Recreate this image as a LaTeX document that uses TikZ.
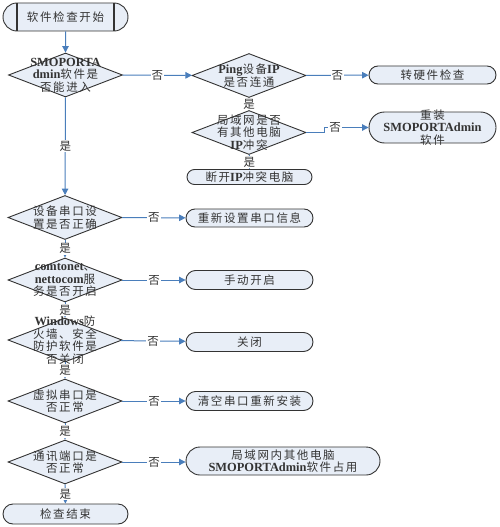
\documentclass[tikz,border=0pt]{standalone}
\usepackage{fontspec}
\setmainfont{Noto Sans CJK SC}[LetterSpace=14]
\newfontfamily\enfont{Liberation Serif}[Scale=1.08]
\newcommand{\en}[1]{{\enfont\bfseries #1}}
\usetikzlibrary{shapes.geometric,shapes.misc,arrows.meta}
\definecolor{myfill}{HTML}{E8EEF7}
\definecolor{myline}{HTML}{4A7EBB}
\definecolor{myborder}{HTML}{333333}
\begin{document}
\begin{tikzpicture}[x=1pt,y=-1pt,font=\fontsize{11.5}{12.5}\selectfont]
\tikzstyle{myterm} = [rounded rectangle, draw=myborder, line width=0.9pt, fill=myfill, inner sep=0pt,
    minimum width=127pt, minimum height=19pt, align=center, text=black!80]
\tikzstyle{mydec} = [diamond, draw=myborder, line width=0.9pt, fill=myfill, inner sep=0pt,
    minimum width=114pt, minimum height=44pt]
\tikzstyle{mytext} = [align=center, text=black!80]
\tikzstyle{myarrow} = [draw=myline, line width=1pt, -{Triangle[width=6.5pt,length=6.5pt]}]
\tikzstyle{mylabel} = [fill=white, inner sep=1pt, text=black!80]
\useasboundingbox (0,0) rectangle (500,527);
% main column
\node[myterm, minimum width=125pt, minimum height=28pt,
    path picture={\draw[myborder, line width=1.2pt]
      ([xshift=14pt]path picture bounding box.north west) -- ([xshift=14pt]path picture bounding box.south west);
      \draw[myborder, line width=1.2pt]
      ([xshift=-14pt]path picture bounding box.north east) -- ([xshift=-14pt]path picture bounding box.south east);}]
    (start) at (65.5,17) {软件检查开始};
\node[mydec, label={[mytext]center:{\en{SMOPORTA}\\\en{dmin}软件是\\否能进入}}] (enter) at (65.5,75) {};
\node[mydec, label={[mytext]center:{设备串口设\\置是否正确}}] (port) at (65,217.5) {};
\node[mydec, label={[mytext]center:{\en{comtonet}、\\\en{nettocom}服\\务是否开启}}] (service) at (65,280) {};
\node[mydec, label={[mytext]center:{\en{Windows}防\\火墙、安全\\防护软件是\\否关闭}}] (firewall) at (65,340) {};
\node[mydec, label={[mytext]center:{虚拟串口是\\否正常}}] (virtual) at (65,401) {};
\node[mydec, label={[mytext]center:{通讯端口是\\否正常}}] (comm) at (65,462) {};
\node[myterm, minimum width=125pt, minimum height=20pt] (finish) at (65.5,514) {检查结束};
% right column
\node[mydec, label={[mytext]center:{\en{Ping}设备\en{IP}\\是否连通}}] (ping) at (249,75.5) {};
\node[mydec, label={[mytext]center:{局域网是否\\有其他电脑\\\en{IP}冲突}}] (lan) at (249,132.5) {};
\node[myterm, minimum width=125pt, minimum height=15pt] (unplug) at (249.5,177) {断开\en{IP}冲突电脑};
\node[myterm, minimum height=18pt] (hardware) at (432.5,75) {转硬件检查};
\node[myterm, minimum height=31pt, label={[mytext]center:{重装\\\en{SMOPORTAdmin}\\软件}}] (reinstall) at (432.5,127.5) {};
\node[myterm, minimum height=18pt] (reset) at (249.5,218) {重新设置串口信息};
\node[myterm] (manual) at (249.5,280) {手动开启};
\node[myterm] (close) at (249.5,342) {关闭};
\node[myterm] (clear) at (249.5,401) {清空串口重新安装};
\node[myterm, minimum width=194pt, minimum height=28pt] (occupied) at (283,461) {局域网内其他电脑\\\en{SMOPORTAdmin}软件占用};
% connectors
\draw[myarrow] (start) -- (enter);
\draw[myarrow] (enter) -- node[mylabel] {是} (port);
\draw[myarrow] (port) -- node[mylabel] {是} (service);
\draw[myarrow] (service) -- node[mylabel] {是} (firewall);
\draw[myarrow] (firewall) -- node[mylabel] {是} (virtual);
\draw[myarrow] (virtual) -- node[mylabel] {是} (comm);
\draw[myarrow] (comm) -- node[mylabel] {是} (finish);
\draw[myarrow] (enter) -- node[mylabel] {否} (ping);
\draw[myarrow] (ping) -- node[mylabel] {否} (hardware);
\draw[myarrow] (ping) -- node[mylabel] {是} (lan);
\draw[myarrow] (lan) -- node[mylabel] {是} (unplug);
\draw[myarrow] (lan.east) -- ++(18,0) |- node[mylabel, pos=0.62] {否} (reinstall.west);
\draw[myarrow] (port) -- node[mylabel] {否} (reset);
\draw[myarrow] (service) -- node[mylabel] {否} (manual);
\draw[myarrow] (firewall) -- node[mylabel] {否} (close);
\draw[myarrow] (virtual) -- node[mylabel] {否} (clear);
\draw[myarrow] (comm) -- node[mylabel] {否} (comm -| occupied.west);
\end{tikzpicture}
\end{document}
